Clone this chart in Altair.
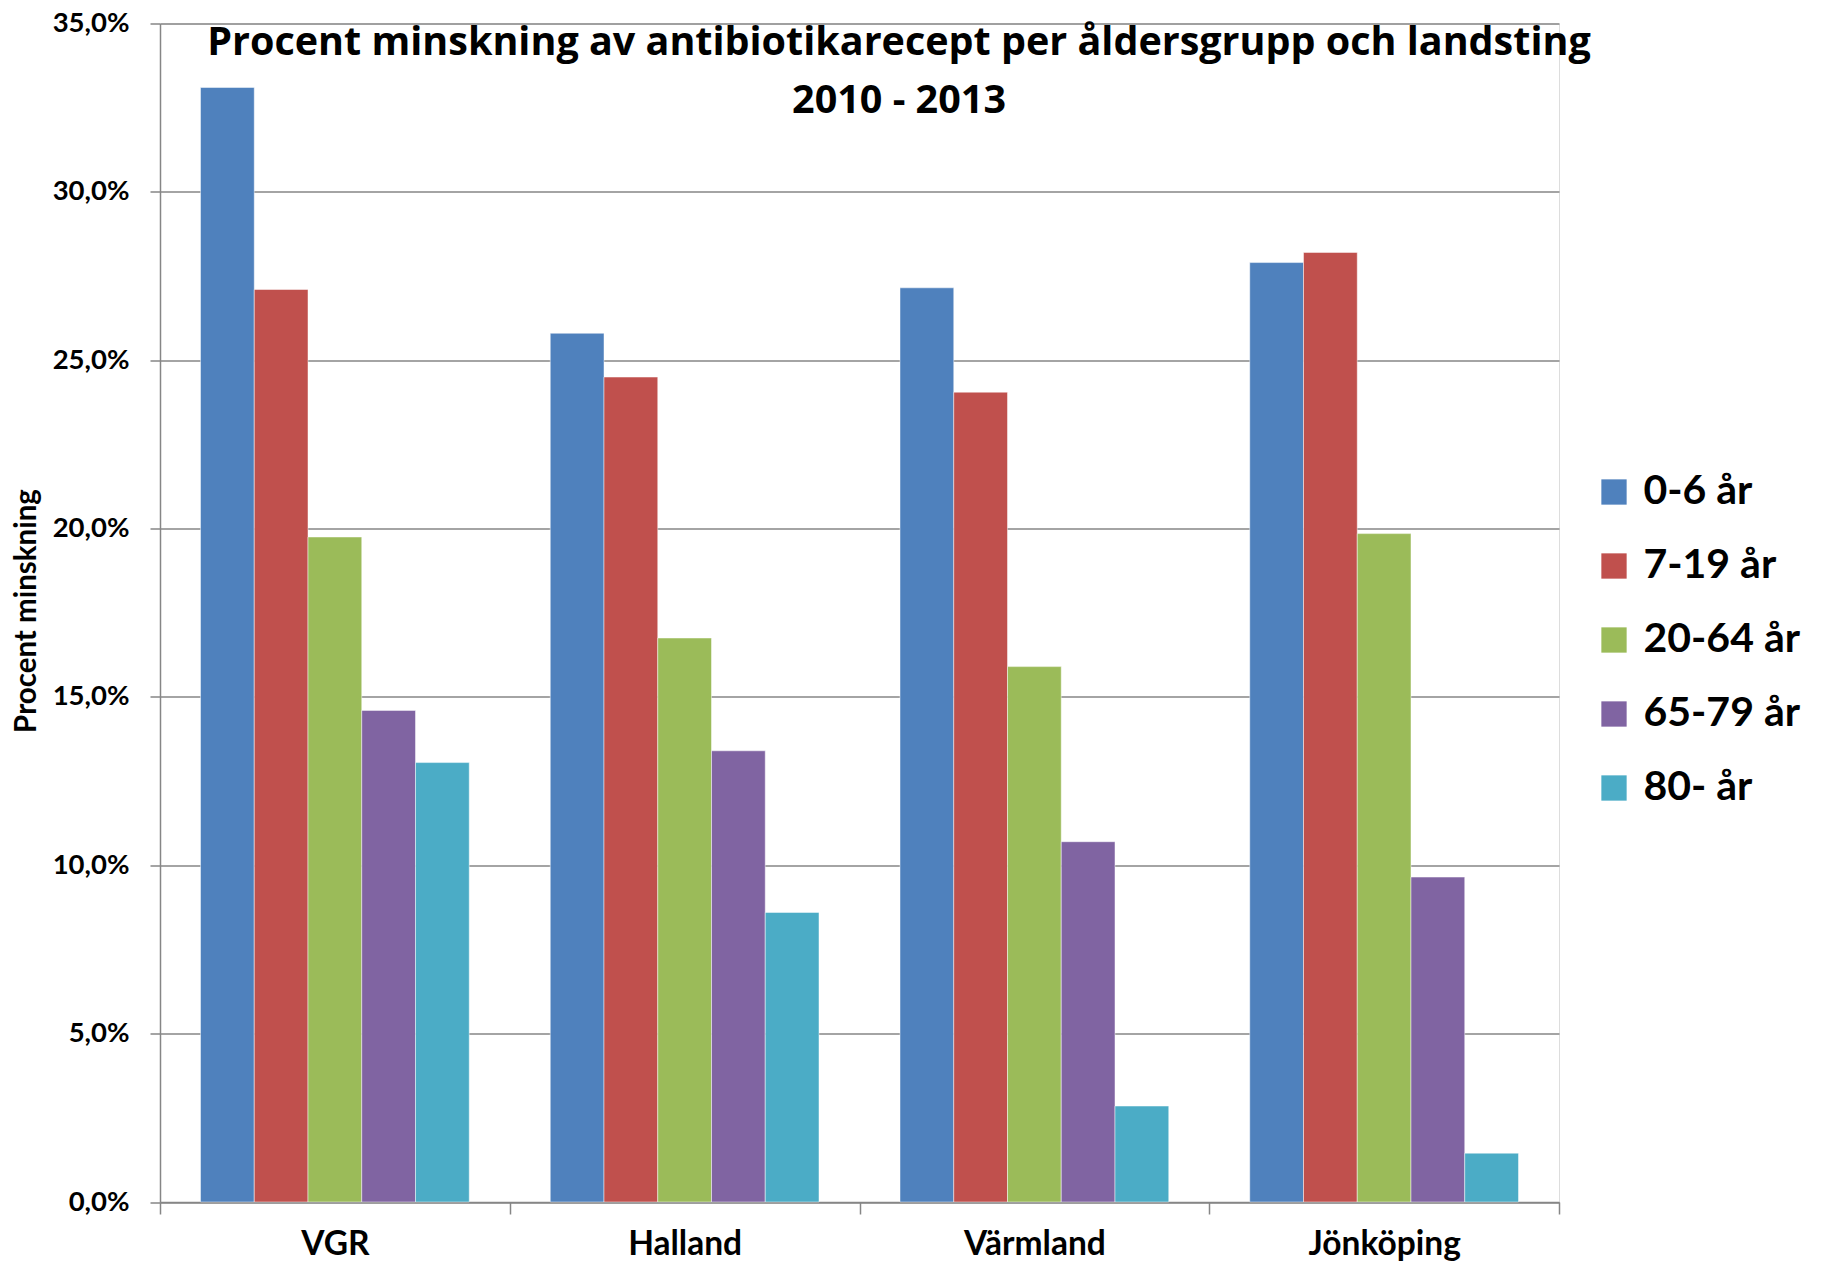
import altair as alt
import pandas as pd

regions = ["VGR", "Halland", "Värmland", "Jönköping"]
groups = ["0-6 år", "7-19 år", "20-64 år", "65-79 år", "80- år"]

v_0_6 = [33.1, 25.8, 27.15, 27.9]
v_7_19 = [27.1, 24.5, 24.05, 28.2]
v_20_64 = [19.75, 16.75, 15.9, 19.85]
v_65_79 = [14.6, 13.4, 10.7, 9.65]
v_80 = [13.05, 8.6, 2.85, 1.45]

series = [v_0_6, v_7_19, v_20_64, v_65_79, v_80]
colors = ["#4F81BD", "#C0504D", "#9BBB59", "#8064A2", "#4BACC6"]
y_ticks = [0, 5, 10, 15, 20, 25, 30, 35]

rows = []
for g, vals in zip(groups, series):
    for r, v in zip(regions, vals):
        rows.append({"landsting": r, "alder": g, "procent": v})
df = pd.DataFrame(rows)

FONT = "Lato"
TFONT = "Open Sans"
GRAY = "#868686"

chart = alt.Chart(df).mark_bar(stroke="white", strokeWidth=0.8, strokeOpacity=0.6).encode(
    x=alt.X(
        "landsting:N",
        sort=regions,
        scale=alt.Scale(paddingInner=0, paddingOuter=0),
        axis=alt.Axis(
            title=None, labelAngle=0, tickBand="extent",
            labelFont=FONT, labelFontSize=33.5, labelFontWeight="bold", labelColor="black",
            labelPadding=14, tickSize=12, tickColor=GRAY, tickWidth=1.5,
            domainColor=GRAY, domainWidth=1.5, grid=False,
        ),
    ),
    xOffset=alt.XOffset("alder:N", sort=groups,
                        scale=alt.Scale(paddingInner=0, paddingOuter=0.7535)),
    y=alt.Y(
        "procent:Q",
        scale=alt.Scale(domain=[0, 35], nice=False),
        axis=alt.Axis(
            values=y_ticks,
            labelExpr="replace(format(datum.value, '.1f'), '.', ',') + '%'",
            labelFont=FONT, labelFontSize=27.5, labelFontWeight="bold", labelColor="black",
            labelPadding=21, tickSize=10, tickColor=GRAY, tickWidth=1.5,
            domainColor=GRAY, domainWidth=1.5,
            grid=True, gridColor=GRAY, gridWidth=1.5,
            title="Procent minskning", titleFont=FONT, titleFontSize=29.5, titleFontWeight="bold",
            titleColor="black", titleAngle=270, titleX=-125, titleY=587,
            titleAlign="center", titleBaseline="alphabetic",
        ),
    ),
    color=alt.Color(
        "alder:N",
        sort=groups,
        scale=alt.Scale(domain=groups, range=colors),
        legend=alt.Legend(
            title=None, orient="none", legendX=1433.5, legendY=448, padding=0,
            symbolType="square", symbolSize=640, symbolStrokeWidth=0, symbolOpacity=1,
            labelFont=FONT, labelFontSize=41, labelFontWeight="bold", labelColor="black",
            labelOffset=9, rowPadding=32, labelLimit=400,
        ),
    ),
).properties(
    width=1399,
    height=1178.5,
    title=alt.TitleParams(
        text=["Procent minskning av antibiotikarecept per åldersgrupp och landsting", "2010 - 2013"],
        anchor="middle", frame="group", font=TFONT, fontSize=39.5, fontWeight="bold",
        color="black", lineHeight=58, dx=39.5, dy=143, offset=0, baseline="alphabetic",
    ),
    padding={"left": 152, "top": 15.5, "right": 250, "bottom": 59},
    autosize=alt.AutoSizeParams(type="none"),
).configure_view(stroke="transparent").configure(background="white")

chart.save("out.html", embed_options={"renderer": "svg", "actions": False})
